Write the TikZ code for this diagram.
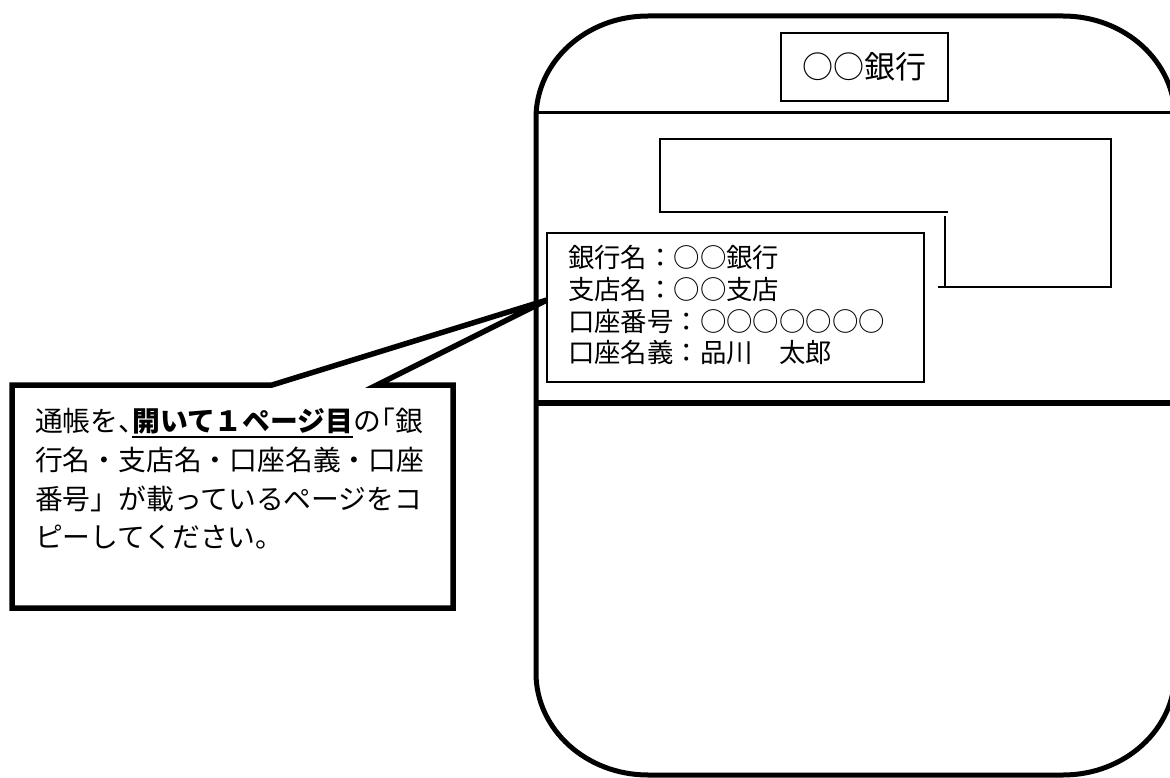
\documentclass[tikz,border=0pt]{standalone}
\usepackage{fontspec}
\newfontfamily\jp{Noto Sans CJK JP}
\begin{document}
\begin{tikzpicture}[x=1pt,y=-1pt,
  book/.style={line width=5pt, line join=round},
  thinbox/.style={draw, line width=1.3pt, inner sep=0pt},
  midline/.style={line width=2pt},
  lbl/.style={inner sep=0pt, outer sep=0pt, anchor=base west, text=black},
  infotext/.style={lbl, font=\jp\fontsize{26.4}{30}\selectfont},
  calltext/.style={lbl, font=\jp\fontsize{27.8}{34}\selectfont},
  callbold/.style={lbl, font=\jp\bfseries\fontsize{27.8}{34}\selectfont},
  callout/.style={line width=5.5pt, fill=white}
]
\useasboundingbox (0,0) rectangle (1170,778);
\clip (0,0) rectangle (1170,778);

% passbook outline
\draw[book] (536,118) .. controls (536,61.7) and (586.1,16) .. (648,16)
  -- (1063,16) .. controls (1124.9,16) and (1175,61.7) .. (1175,118)
  -- (1175,673) .. controls (1175,729.3) and (1124.9,775) .. (1063,775)
  -- (648,775) .. controls (586.1,775) and (536,729.3) .. (536,673) -- cycle;

% dividers
\draw[line width=3pt] (536,113) -- (1175,113);
\draw[line width=5.5pt] (536,403) -- (1175,403);

% bank name box
\node[thinbox, minimum width=167pt, minimum height=68pt,
  font=\jp\fontsize{31}{31}\selectfont] (bank) at (864.5,67) {○○銀行};

% inner L-shaped frame
\draw[midline] (948,212) -- (660,212) -- (660,139) -- (1111,139) -- (1111,287) -- (938,287);
\draw[midline] (945,216) -- (945,287);

% info box
\node[thinbox, minimum width=377pt, minimum height=149pt] (info) at (735.5,307.5) {};
\node[infotext] (l1) at (568,268) {銀行名：○○銀行};
\node[infotext] (l2) at (568,299.5) {支店名：○○支店};
\node[infotext] (l3) at (568,331) {口座番号：○○○○○○○};
\node[infotext] (l4) at (568,362.5) {口座名義：品川　太郎};

% callout
\coordinate (tip) at (547,300);
\draw[callout] (12,385) -- (272,385) -- (tip) -- (377,385) -- (453,385)
  -- (453,608) -- (12,608) -- cycle;

\node[calltext] (c1a) at (35,431.6) {通帳を\makebox[0.5em][l]{、}};
\node[callbold] (c1b) at (c1a.base east) {開いて１ページ目};
\node[calltext] (c1c) at (c1b.base east) {の\makebox[0.5em][r]{「}銀};
\draw[line width=1.8pt] ([yshift=-5.5pt]c1b.base west) -- ([yshift=-5.5pt]c1b.base east);
\node[calltext] (c2) at (35,470.6) {行名・支店名・口座名義・口座};
\node[calltext] (c3) at (35,509.6) {番号」が載っているページをコ};
\node[calltext] (c4) at (35,547.6) {ピーしてください。};
\end{tikzpicture}
\end{document}
